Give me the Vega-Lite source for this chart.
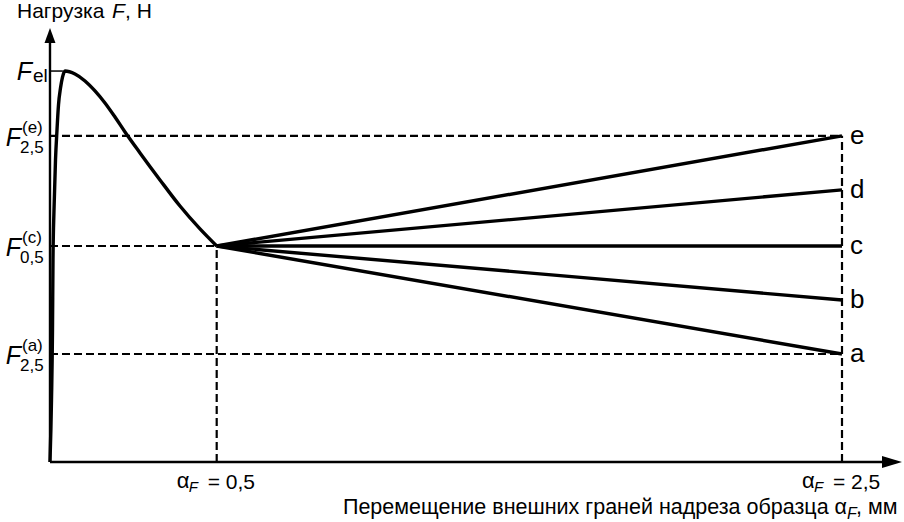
{
  "$schema": "https://vega.github.io/schema/vega-lite/v6.json",
  "width": 904,
  "height": 522,
  "autosize": {"type": "fit", "contains": "padding"},
  "padding": 0,
  "background": "white",
  "config": {
    "view": {"stroke": null},
    "text": {"font": "Liberation Sans", "color": "black"}
  },
  "datasets": {
    "curve": [
      {"i": 1, "aF": -0.0332, "F": 0},
      {"i": 2, "aF": -0.0284, "F": 0.287},
      {"i": 3, "aF": -0.0252, "F": 0.611},
      {"i": 4, "aF": -0.0236, "F": 0.935},
      {"i": 5, "aF": -0.0204, "F": 1.167},
      {"i": 6, "aF": -0.0156, "F": 1.398},
      {"i": 7, "aF": -0.0108, "F": 1.537},
      {"i": 8, "aF": -0.006, "F": 1.653},
      {"i": 9, "aF": 0.0004, "F": 1.731},
      {"i": 10, "aF": 0.0068, "F": 1.782},
      {"i": 11, "aF": 0.0148, "F": 1.81},
      {"i": 12, "aF": 0.0468, "F": 1.796},
      {"i": 13, "aF": 0.0788, "F": 1.764},
      {"i": 14, "aF": 0.1107, "F": 1.718},
      {"i": 15, "aF": 0.1427, "F": 1.662},
      {"i": 16, "aF": 0.1747, "F": 1.597},
      {"i": 17, "aF": 0.2067, "F": 1.528},
      {"i": 18, "aF": 0.2547, "F": 1.431},
      {"i": 19, "aF": 0.3186, "F": 1.306},
      {"i": 20, "aF": 0.3826, "F": 1.185},
      {"i": 21, "aF": 0.4466, "F": 1.079},
      {"i": 22, "aF": 0.5, "F": 1.0}
    ],
    "branches": [
      {"case": "a", "aF": 0.5, "F": 1.0}, {"case": "a", "aF": 2.5, "F": 0.5},
      {"case": "b", "aF": 0.5, "F": 1.0}, {"case": "b", "aF": 2.5, "F": 0.75},
      {"case": "c", "aF": 0.5, "F": 1.0}, {"case": "c", "aF": 2.5, "F": 1.0},
      {"case": "d", "aF": 0.5, "F": 1.0}, {"case": "d", "aF": 2.5, "F": 1.26},
      {"case": "e", "aF": 0.5, "F": 1.0}, {"case": "e", "aF": 2.5, "F": 1.51}
    ],
    "hlines": [
      {"aF": -0.0332, "aF2": 2.5, "F": 1.51},
      {"aF": -0.0332, "aF2": 0.5, "F": 1.0},
      {"aF": -0.0332, "aF2": 2.5, "F": 0.5}
    ],
    "vlines": [
      {"aF": 0.5, "F": 0, "F2": 1.0},
      {"aF": 2.5, "F": 0, "F2": 1.51}
    ],
    "flabels": [
      {"F": 1.51, "sup": "(e)", "sub": "2,5"},
      {"F": 1.0, "sup": "(c)", "sub": "0,5"},
      {"F": 0.5, "sup": "(a)", "sub": "2,5"}
    ],
    "xlabels": [
      {"aF": 0.5, "txt": "= 0,5"},
      {"aF": 2.5, "txt": "= 2,5"}
    ]
  },
  "layer": [
    {
      "data": {"name": "hlines"},
      "mark": {"type": "rule", "color": "black", "strokeWidth": 2.2, "strokeDash": [8, 4]},
      "encoding": {
        "x": {"field": "aF", "type": "quantitative", "axis": null, "scale": {"domain": [-0.1931, 2.6983], "nice": false, "zero": false}},
        "x2": {"field": "aF2"},
        "y": {"field": "F", "type": "quantitative", "axis": null, "scale": {"domain": [-0.2778, 2.1389], "nice": false, "zero": false}}
      }
    },
    {
      "data": {"name": "vlines"},
      "mark": {"type": "rule", "color": "black", "strokeWidth": 2.2, "strokeDash": [8, 4]},
      "encoding": {
        "x": {"field": "aF", "type": "quantitative"},
        "y": {"field": "F", "type": "quantitative"},
        "y2": {"field": "F2"}
      }
    },
    {
      "data": {"values": [{"aF": -0.0332, "aF2": 0.008, "F": 1.81}]},
      "mark": {"type": "rule", "color": "black", "strokeWidth": 1.5},
      "encoding": {
        "x": {"field": "aF", "type": "quantitative"},
        "x2": {"field": "aF2"},
        "y": {"field": "F", "type": "quantitative"}
      }
    },
    {
      "data": {"values": [{"aF": -0.0332, "F": 0, "F2": 1.95}]},
      "mark": {"type": "rule", "color": "black", "strokeWidth": 2.4},
      "encoding": {
        "x": {"field": "aF", "type": "quantitative"},
        "y": {"field": "F", "type": "quantitative"},
        "y2": {"field": "F2"}
      }
    },
    {
      "data": {"values": [{"aF": -0.0332, "F": 0, "aF2": 2.628}]},
      "mark": {"type": "rule", "color": "black", "strokeWidth": 2.4},
      "encoding": {
        "x": {"field": "aF", "type": "quantitative"},
        "x2": {"field": "aF2"},
        "y": {"field": "F", "type": "quantitative"}
      }
    },
    {
      "data": {"values": [{"aF": -0.0332, "F": 1.9745}]},
      "mark": {"type": "point", "shape": "M0,-1L0.73,1L-0.73,1Z", "size": 225, "filled": true, "color": "black", "opacity": 1},
      "encoding": {
        "x": {"field": "aF", "type": "quantitative"},
        "y": {"field": "F", "type": "quantitative"}
      }
    },
    {
      "data": {"values": [{"aF": 2.66, "F": 0}]},
      "mark": {"type": "point", "shape": "M1,0L-1,-0.6L-1,0.6Z", "size": 400, "filled": true, "color": "black", "opacity": 1},
      "encoding": {
        "x": {"field": "aF", "type": "quantitative"},
        "y": {"field": "F", "type": "quantitative"}
      }
    },
    {
      "data": {"name": "curve"},
      "mark": {"type": "line", "color": "black", "strokeWidth": 3.4, "interpolate": "monotone"},
      "encoding": {
        "x": {"field": "aF", "type": "quantitative"},
        "y": {"field": "F", "type": "quantitative"},
        "order": {"field": "i"}
      }
    },
    {
      "data": {"name": "branches"},
      "mark": {"type": "line", "color": "black", "strokeWidth": 3.4},
      "encoding": {
        "x": {"field": "aF", "type": "quantitative"},
        "y": {"field": "F", "type": "quantitative"},
        "detail": {"field": "case"}
      }
    },
    {
      "data": {"name": "branches"},
      "transform": [{"filter": "datum.aF == 2.5"}],
      "mark": {"type": "text", "align": "left", "baseline": "middle", "dx": 8, "fontSize": 26},
      "encoding": {
        "x": {"field": "aF", "type": "quantitative"},
        "y": {"field": "F", "type": "quantitative"},
        "text": {"field": "case"}
      }
    },
    {
      "data": {"name": "flabels"},
      "mark": {"type": "text", "align": "right", "baseline": "alphabetic", "dx": -29, "dy": 10, "fontSize": 25, "fontStyle": "italic", "text": "F"},
      "encoding": {
        "x": {"datum": -0.0332, "type": "quantitative"},
        "y": {"field": "F", "type": "quantitative"}
      }
    },
    {
      "data": {"name": "flabels"},
      "mark": {"type": "text", "align": "left", "baseline": "alphabetic", "dx": -28, "dy": -3, "fontSize": 17},
      "encoding": {
        "x": {"datum": -0.0332, "type": "quantitative"},
        "y": {"field": "F", "type": "quantitative"},
        "text": {"field": "sup"}
      }
    },
    {
      "data": {"name": "flabels"},
      "mark": {"type": "text", "align": "left", "baseline": "alphabetic", "dx": -30, "dy": 17, "fontSize": 17},
      "encoding": {
        "x": {"datum": -0.0332, "type": "quantitative"},
        "y": {"field": "F", "type": "quantitative"},
        "text": {"field": "sub"}
      }
    },
    {
      "data": {"values": [{"F": 1.81}]},
      "mark": {"type": "text", "align": "right", "baseline": "alphabetic", "dx": -18, "dy": 9, "fontSize": 25, "fontStyle": "italic", "text": "F"},
      "encoding": {
        "x": {"datum": -0.0332, "type": "quantitative"},
        "y": {"field": "F", "type": "quantitative"}
      }
    },
    {
      "data": {"values": [{"F": 1.81}]},
      "mark": {"type": "text", "align": "left", "baseline": "alphabetic", "dx": -17, "dy": 11, "fontSize": 19, "text": "el"},
      "encoding": {
        "x": {"datum": -0.0332, "type": "quantitative"},
        "y": {"field": "F", "type": "quantitative"}
      }
    },
    {
      "data": {"values": [{"F": 2.0}]},
      "mark": {"type": "text", "align": "left", "baseline": "alphabetic", "dx": -33, "dy": -12, "fontSize": 21, "text": "Нагрузка"},
      "encoding": {
        "x": {"datum": -0.0332, "type": "quantitative"},
        "y": {"field": "F", "type": "quantitative"}
      }
    },
    {
      "data": {"values": [{"F": 2.0}]},
      "mark": {"type": "text", "align": "left", "baseline": "alphabetic", "dx": 62, "dy": -12, "fontSize": 21, "fontStyle": "italic", "text": "F"},
      "encoding": {
        "x": {"datum": -0.0332, "type": "quantitative"},
        "y": {"field": "F", "type": "quantitative"}
      }
    },
    {
      "data": {"values": [{"F": 2.0}]},
      "mark": {"type": "text", "align": "left", "baseline": "alphabetic", "dx": 75, "dy": -12, "fontSize": 21, "text": ", Н"},
      "encoding": {
        "x": {"datum": -0.0332, "type": "quantitative"},
        "y": {"field": "F", "type": "quantitative"}
      }
    },
    {
      "data": {"name": "xlabels"},
      "mark": {"type": "text", "align": "left", "baseline": "alphabetic", "dx": -40, "dy": 26, "fontSize": 22, "text": "α"},
      "encoding": {
        "x": {"field": "aF", "type": "quantitative"},
        "y": {"datum": 0, "type": "quantitative"}
      }
    },
    {
      "data": {"name": "xlabels"},
      "mark": {"type": "text", "align": "left", "baseline": "alphabetic", "dx": -28, "dy": 30, "fontSize": 15, "fontStyle": "italic", "text": "F"},
      "encoding": {
        "x": {"field": "aF", "type": "quantitative"},
        "y": {"datum": 0, "type": "quantitative"}
      }
    },
    {
      "data": {"name": "xlabels"},
      "mark": {"type": "text", "align": "left", "baseline": "alphabetic", "dx": -9, "dy": 27, "fontSize": 21},
      "encoding": {
        "x": {"field": "aF", "type": "quantitative"},
        "y": {"datum": 0, "type": "quantitative"},
        "text": {"field": "txt"}
      }
    },
    {
      "data": {"values": [{"aF": 2.5}]},
      "mark": {"type": "text", "align": "right", "baseline": "alphabetic", "dx": 5, "dy": 52, "fontSize": 21.5, "text": "Перемещение внешних граней надреза образца α"},
      "encoding": {
        "x": {"field": "aF", "type": "quantitative"},
        "y": {"datum": 0, "type": "quantitative"}
      }
    },
    {
      "data": {"values": [{"aF": 2.5}]},
      "mark": {"type": "text", "align": "left", "baseline": "alphabetic", "dx": 5, "dy": 57, "fontSize": 16, "fontStyle": "italic", "text": "F"},
      "encoding": {
        "x": {"field": "aF", "type": "quantitative"},
        "y": {"datum": 0, "type": "quantitative"}
      }
    },
    {
      "data": {"values": [{"aF": 2.5}]},
      "mark": {"type": "text", "align": "left", "baseline": "alphabetic", "dx": 14, "dy": 52, "fontSize": 21.5, "text": ", мм"},
      "encoding": {
        "x": {"field": "aF", "type": "quantitative"},
        "y": {"datum": 0, "type": "quantitative"}
      }
    }
  ]
}
